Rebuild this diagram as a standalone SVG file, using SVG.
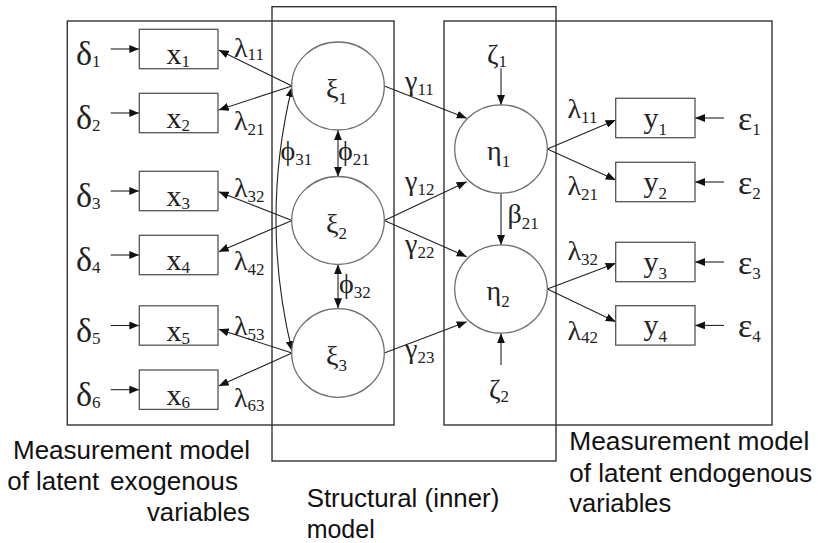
<svg xmlns="http://www.w3.org/2000/svg" width="818" height="543" viewBox="0 0 818 543">
<defs>
<marker id="ah" markerUnits="userSpaceOnUse" markerWidth="10" markerHeight="8" refX="10" refY="4" orient="auto-start-reverse" viewBox="0 0 10 8">
<path d="M0,0 L10,4 L0,8 z" fill="#111"/>
</marker>
<style>
.frame{fill:none;stroke:#333;stroke-width:1.4}
.box{fill:#fff;stroke:#555;stroke-width:1.3}
.lat{fill:#fff;stroke:#707070;stroke-width:1.3}
.c{fill:none;stroke:#222;stroke-width:1.1;marker-end:url(#ah)}
.d{fill:none;stroke:#222;stroke-width:1.1;marker-end:url(#ah);marker-start:url(#ah)}
text{font-family:"Liberation Serif","DejaVu Serif",serif;fill:#222}
.gb{font-size:34px}
.v{font-size:30px}
.g{font-size:28px}
.s{font-size:17px;font-family:"Liberation Serif",serif}
.cap{font-family:"Liberation Sans",Arial,sans-serif;font-size:25px;fill:#111}
</style>
</defs>

<g id="frames">
<rect class="frame" x="67.3" y="21" width="326.7" height="404"/>
<rect class="frame" x="272" y="6.7" width="284" height="454.3"/>
<rect class="frame" x="444" y="21" width="328" height="404"/>
</g>

<g id="connectors">
<line class="c" x1="110.7" y1="49" x2="139.3" y2="49"/>
<line class="c" x1="110.7" y1="113" x2="139.3" y2="113"/>
<line class="c" x1="110.7" y1="191" x2="139.3" y2="191"/>
<line class="c" x1="110.7" y1="255" x2="139.3" y2="255"/>
<line class="c" x1="110.7" y1="325.5" x2="139.3" y2="325.5"/>
<line class="c" x1="110.7" y1="389.7" x2="139.3" y2="389.7"/>
<line class="c" x1="292" y1="86" x2="218.7" y2="50"/>
<line class="c" x1="292" y1="86" x2="218.7" y2="110"/>
<line class="c" x1="292" y1="220.5" x2="218.7" y2="191.7"/>
<line class="c" x1="292" y1="220.5" x2="218.7" y2="251.7"/>
<line class="c" x1="292" y1="353" x2="218.7" y2="329.3"/>
<line class="c" x1="292" y1="353" x2="218.7" y2="386"/>
<line class="d" x1="338" y1="130.2" x2="338" y2="176.7"/>
<line class="d" x1="338" y1="264.3" x2="338" y2="308.3"/>
<path class="d" d="M292,87 Q260,219 292,351"/>
<line class="c" x1="384.3" y1="86" x2="466.7" y2="118.3"/>
<line class="c" x1="384.3" y1="220.5" x2="466.7" y2="181.7"/>
<line class="c" x1="384.3" y1="220.5" x2="466.7" y2="256.7"/>
<line class="c" x1="384.3" y1="353" x2="466.7" y2="321.7"/>
<line class="c" x1="501" y1="68.3" x2="501" y2="105"/>
<line class="c" x1="501" y1="193.3" x2="501" y2="245"/>
<line class="c" x1="501" y1="365" x2="501" y2="333.3"/>
<line class="c" x1="547.3" y1="149" x2="615.7" y2="120"/>
<line class="c" x1="547.3" y1="149" x2="615.7" y2="180"/>
<line class="c" x1="547.3" y1="289" x2="615.7" y2="263.3"/>
<line class="c" x1="547.3" y1="289" x2="615.7" y2="321.7"/>
<line class="c" x1="724" y1="118" x2="695" y2="118"/>
<line class="c" x1="724" y1="182" x2="695" y2="182"/>
<line class="c" x1="724" y1="262" x2="695" y2="262"/>
<line class="c" x1="724" y1="325.4" x2="695" y2="325.4"/>
</g>

<g id="connector-labels">
<text class="g" x="234" y="56.7">λ<tspan class="s" dy="3">11</tspan></text>
<text class="g" x="234" y="130">λ<tspan class="s" dy="5">21</tspan></text>
<text class="g" x="234" y="196.7">λ<tspan class="s" dy="5">32</tspan></text>
<text class="g" x="234" y="270">λ<tspan class="s" dy="5">42</tspan></text>
<text class="g" x="234" y="335">λ<tspan class="s" dy="5">53</tspan></text>
<text class="g" x="234" y="406.7">λ<tspan class="s" dy="4">63</tspan></text>
<text class="g" x="338" y="160">ϕ<tspan class="s" dy="5">21</tspan></text>
<text class="g" x="280.5" y="160">ϕ<tspan class="s" dy="5">31</tspan></text>
<text class="g" x="339" y="293">ϕ<tspan class="s" dy="5">32</tspan></text>
<text class="g" x="405" y="90">γ<tspan class="s" dy="5">11</tspan></text>
<text class="g" x="405" y="190">γ<tspan class="s" dy="5">12</tspan></text>
<text class="g" x="405" y="253">γ<tspan class="s" dy="5">22</tspan></text>
<text class="g" x="405" y="358">γ<tspan class="s" dy="5">23</tspan></text>
<text class="g" x="507.5" y="223">β<tspan class="s" dy="6">21</tspan></text>
<text class="g" x="567.5" y="118.3">λ<tspan class="s" dy="5">11</tspan></text>
<text class="g" x="567.5" y="195">λ<tspan class="s" dy="5">21</tspan></text>
<text class="g" x="567.5" y="260">λ<tspan class="s" dy="5">32</tspan></text>
<text class="g" x="567.5" y="340">λ<tspan class="s" dy="3">42</tspan></text>
</g>

<g id="delta1"><text class="gb" x="76" y="65">δ<tspan class="s" dy="2">1</tspan></text></g>
<g id="delta2"><text class="gb" x="76" y="129">δ<tspan class="s" dy="2">2</tspan></text></g>
<g id="delta3"><text class="gb" x="76" y="207">δ<tspan class="s" dy="2">3</tspan></text></g>
<g id="delta4"><text class="gb" x="76" y="271">δ<tspan class="s" dy="2">4</tspan></text></g>
<g id="delta5"><text class="gb" x="76" y="341.5">δ<tspan class="s" dy="2">5</tspan></text></g>
<g id="delta6"><text class="gb" x="76" y="405.7">δ<tspan class="s" dy="2">6</tspan></text></g>

<g id="x1"><rect class="box" x="139.3" y="29.3" width="78.7" height="39.4"/><text class="v" x="166.5" y="64">x<tspan class="s" dy="3">1</tspan></text></g>
<g id="x2"><rect class="box" x="139.3" y="93.3" width="78.7" height="39.4"/><text class="v" x="166.5" y="128">x<tspan class="s" dy="3">2</tspan></text></g>
<g id="x3"><rect class="box" x="139.3" y="171.3" width="78.7" height="39.4"/><text class="v" x="166.5" y="206">x<tspan class="s" dy="3">3</tspan></text></g>
<g id="x4"><rect class="box" x="139.3" y="235.3" width="78.7" height="39.4"/><text class="v" x="166.5" y="270">x<tspan class="s" dy="3">4</tspan></text></g>
<g id="x5"><rect class="box" x="139.3" y="305.8" width="78.7" height="39.4"/><text class="v" x="166.5" y="340.5">x<tspan class="s" dy="3">5</tspan></text></g>
<g id="x6"><rect class="box" x="139.3" y="370" width="78.7" height="39.4"/><text class="v" x="166.5" y="404.7">x<tspan class="s" dy="3">6</tspan></text></g>

<g id="xi1"><ellipse class="lat" cx="338" cy="86" rx="46.3" ry="44"/><text class="g" x="326" y="98">ξ<tspan class="s" dy="6">1</tspan></text></g>
<g id="xi2"><ellipse class="lat" cx="338" cy="220.5" rx="46.3" ry="44"/><text class="g" x="326" y="232.5">ξ<tspan class="s" dy="6">2</tspan></text></g>
<g id="xi3"><ellipse class="lat" cx="338" cy="353" rx="46.3" ry="44.3"/><text class="g" x="326" y="365">ξ<tspan class="s" dy="6">3</tspan></text></g>

<g id="zeta1"><text class="g" x="487" y="64">ζ<tspan class="s" dy="3">1</tspan></text></g>
<g id="zeta2"><text class="g" x="489" y="399">ζ<tspan class="s" dy="3">2</tspan></text></g>

<g id="eta1"><ellipse class="lat" cx="501" cy="149" rx="46.3" ry="44.2"/><text class="g" x="487" y="160">η<tspan class="s" dy="7">1</tspan></text></g>
<g id="eta2"><ellipse class="lat" cx="501" cy="289" rx="46.3" ry="44.2"/><text class="g" x="486.5" y="300">η<tspan class="s" dy="7">2</tspan></text></g>

<g id="y1"><rect class="box" x="615.7" y="98.3" width="79.3" height="39.4"/><text class="v" x="643.5" y="127.7">y<tspan class="s" dy="7">1</tspan></text></g>
<g id="y2"><rect class="box" x="615.7" y="162.3" width="79.3" height="39.4"/><text class="v" x="643.5" y="191.7">y<tspan class="s" dy="7">2</tspan></text></g>
<g id="y3"><rect class="box" x="615.7" y="242.3" width="79.3" height="39.4"/><text class="v" x="643.5" y="271.7">y<tspan class="s" dy="7">3</tspan></text></g>
<g id="y4"><rect class="box" x="615.7" y="305.7" width="79.3" height="39.4"/><text class="v" x="643.5" y="335.1">y<tspan class="s" dy="7">4</tspan></text></g>

<g id="eps1"><text class="gb" x="738" y="129.5">ε<tspan class="s" dy="5">1</tspan></text></g>
<g id="eps2"><text class="gb" x="738" y="193.5">ε<tspan class="s" dy="5">2</tspan></text></g>
<g id="eps3"><text class="gb" x="738" y="273.5">ε<tspan class="s" dy="5">3</tspan></text></g>
<g id="eps4"><text class="gb" x="738" y="337">ε<tspan class="s" dy="5">4</tspan></text></g>

<g id="captions">
<text class="cap" x="13" y="459" textLength="237" lengthAdjust="spacingAndGlyphs">Measurement model</text>
<text class="cap" x="7.3" y="490" textLength="92" lengthAdjust="spacingAndGlyphs">of latent</text>
<text class="cap" x="110" y="490" textLength="128" lengthAdjust="spacingAndGlyphs">exogenous</text>
<text class="cap" x="147" y="521" textLength="103" lengthAdjust="spacingAndGlyphs">variables</text>
<text class="cap" x="306.7" y="507.3" textLength="192.6" lengthAdjust="spacingAndGlyphs">Structural (inner)</text>
<text class="cap" x="306.7" y="537.5" textLength="68" lengthAdjust="spacingAndGlyphs">model</text>
<text class="cap" x="569.3" y="450" textLength="240" lengthAdjust="spacingAndGlyphs">Measurement model</text>
<text class="cap" x="569.3" y="481.7" textLength="243" lengthAdjust="spacingAndGlyphs">of latent endogenous</text>
<text class="cap" x="569.3" y="511.7" textLength="102" lengthAdjust="spacingAndGlyphs">variables</text>
</g>
</svg>
